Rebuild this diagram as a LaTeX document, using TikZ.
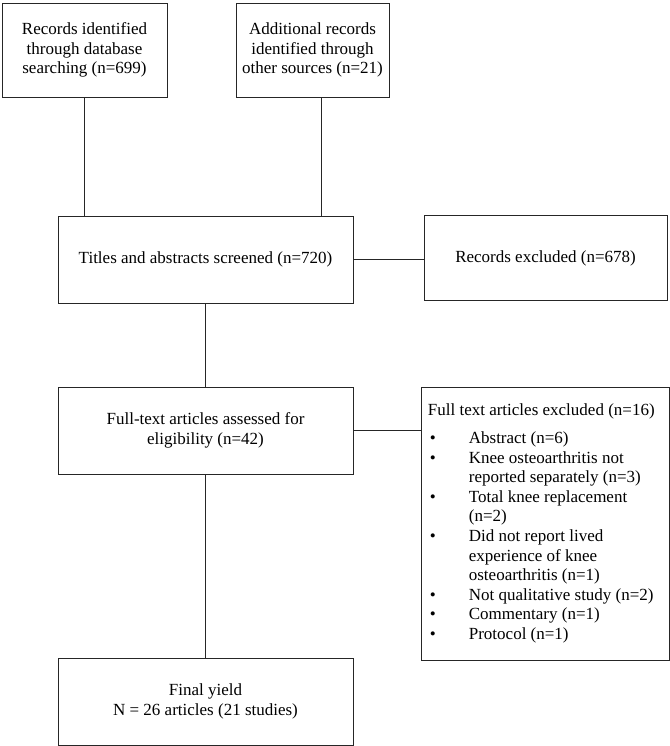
\documentclass[tikz,border=0pt]{standalone}
\usepackage{fontspec}
\setmainfont{Liberation Serif}
\usetikzlibrary{positioning}

\tikzstyle{block} = [rectangle, draw=black!85, line width=0.9pt, align=center, inner sep=4pt, font=\fontsize{17}{19.6}\selectfont]
\tikzstyle{link} = [draw=black!85, line width=0.9pt]
\newcommand{\exclitem}[1]{\par\hangindent=41pt\hangafter=1\noindent\makebox[41pt][l]{\hspace{2pt}\textbullet}#1}

\begin{document}
\begin{tikzpicture}[x=1pt,y=-1pt]
		\useasboundingbox (0,0) rectangle (669,746);
		% Cajas de identificacion
		\node[block, minimum width=165pt, minimum height=94pt] (dbsearch) at (84.5,50) {Records identified\\through database\\searching (n=699)};
		\node[block, minimum width=153pt, minimum height=94pt] (othersrc) at (312.5,50) {Additional records\\identified through\\other sources (n=21)};
		% Cribado
		\node[block, minimum width=295pt, minimum height=87pt] (screened) at (205.5,259.5) {Titles and abstracts screened (n=720)};
		\node[block, minimum width=243pt, minimum height=85pt] (recexcl) at (545.5,258) {Records excluded (n=678)};
		% Elegibilidad
		\node[block, minimum width=295pt, minimum height=87pt] (assessed) at (205.5,430.5) {Full-text articles assessed for\\eligibility (n=42)};
		\node[block, minimum width=243pt, minimum height=273pt, inner sep=6pt] (ftexcl) at (545.5,523.5) {
			\begin{minipage}{231pt}\raggedright
			Full text articles excluded (n=16)\par\vspace{8.4pt}
			\exclitem{Abstract (n=6)}
			\exclitem{Knee osteoarthritis not\newline reported separately (n=3)}
			\exclitem{Total knee replacement\newline (n=2)}
			\exclitem{Did not report lived\newline experience of knee\newline osteoarthritis (n=1)}
			\exclitem{Not qualitative study (n=2)}
			\exclitem{Commentary (n=1)}
			\exclitem{Protocol (n=1)}
			\end{minipage}
		};
		% Resultado final
		\node[block, minimum width=295pt, minimum height=87pt] (finalyield) at (205.5,701.5) {Final yield\\N = 26 articles (21 studies)};
		% Lineas
		\coordinate (othertap) at ([xshift=8.5pt]othersrc.south);
		\draw[link] (dbsearch.south) -- (dbsearch.south |- screened.north);
		\draw[link] (othertap) -- (othertap |- screened.north);
		\draw[link] (screened.east) -- (screened.east -| recexcl.west);
		\draw[link] (screened.south) -- (assessed.north);
		\draw[link] (assessed.east) -- (assessed.east -| ftexcl.west);
		\draw[link] (assessed.south) -- (finalyield.north);
	\end{tikzpicture}
\end{document}
